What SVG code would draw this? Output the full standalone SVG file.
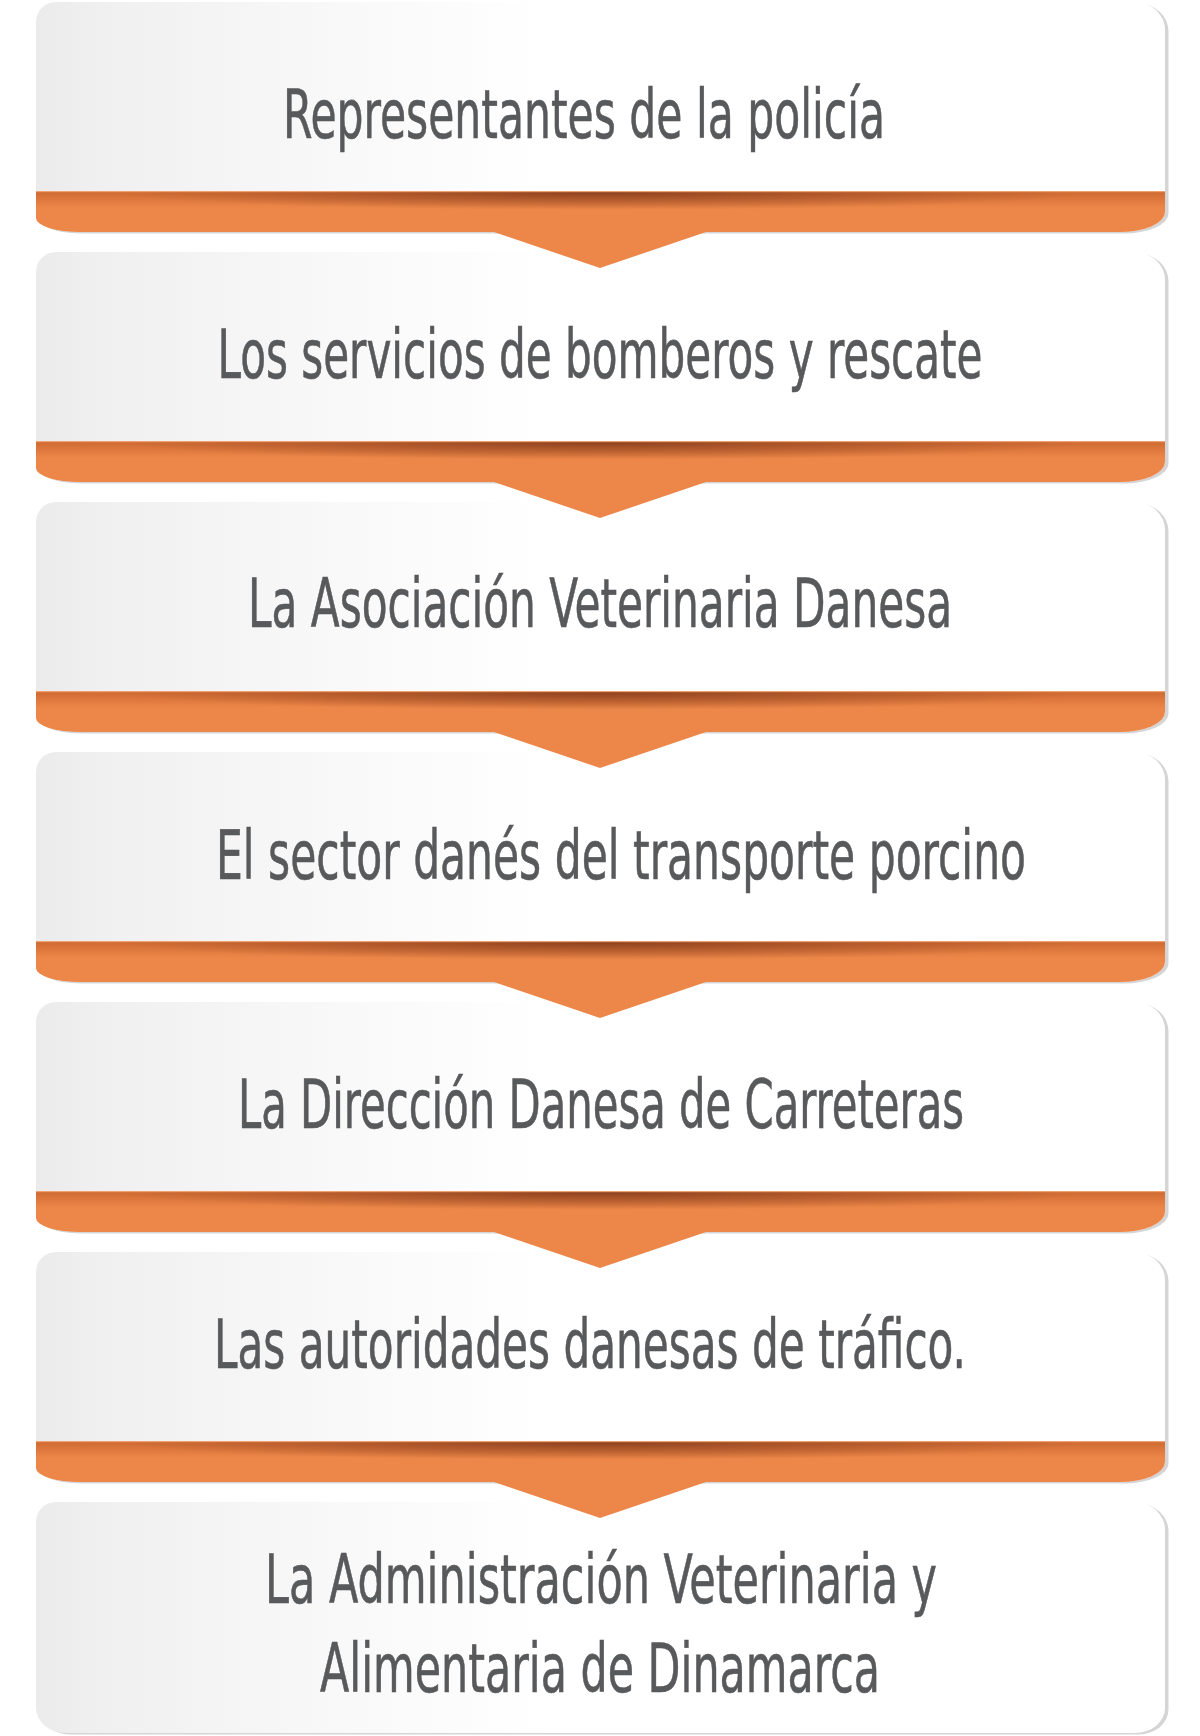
<svg xmlns="http://www.w3.org/2000/svg" width="1200" height="1736" viewBox="0 0 1200 1736">
  <style>
    .lbl { font-family: "Liberation Sans Narrow", "DejaVu Sans Condensed", "Liberation Sans", sans-serif; font-size: 68px; fill: #58595b; stroke: #58595b; stroke-width: 0.6px; text-anchor: middle; }
    .shadow { fill: #d5d5d5; }
    .arrow { fill: #ed8749; }
  </style>
  <defs>
    <path id="card" d="M 56 0 H 1135 A 30 28 0 0 1 1165 28 V 210 A 45 20 0 0 1 1120 230 H 80 A 44 14 0 0 1 36 216 V 20 A 20 20 0 0 1 56 0 Z"/>
    <path id="cardLast" d="M 56 0 H 1135 A 30 28 0 0 1 1165 28 V 206 A 30 25 0 0 1 1135 231 H 66 A 30 25 0 0 1 36 206 V 20 A 20 20 0 0 1 56 0 Z"/>
    <clipPath id="clipCard"><use href="#card"/></clipPath>
    <clipPath id="clipLast"><use href="#cardLast"/></clipPath>
    <linearGradient id="face" gradientUnits="userSpaceOnUse" x1="36" y1="0" x2="1165" y2="0">
      <stop offset="0" stop-color="#ebebeb"/>
      <stop offset="0.06" stop-color="#f0f0f0"/>
      <stop offset="0.25" stop-color="#f8f8f8"/>
      <stop offset="0.45" stop-color="#ffffff"/>
      <stop offset="1" stop-color="#ffffff"/>
    </linearGradient>
    <linearGradient id="bandTop" x1="0" y1="0" x2="0" y2="1">
      <stop offset="0" stop-color="#c4602a" stop-opacity="0.75"/>
      <stop offset="1" stop-color="#c4602a" stop-opacity="0"/>
    </linearGradient>
    <radialGradient id="bandDark" cx="0.5" cy="0" r="0.5">
      <stop offset="0" stop-color="#7a3518" stop-opacity="0.8"/>
      <stop offset="0.5" stop-color="#8a3f1e" stop-opacity="0.45"/>
      <stop offset="1" stop-color="#8a3f1e" stop-opacity="0"/>
    </radialGradient>
    <g id="face-band">
      <rect x="30" y="-5" width="1140" height="245" fill="url(#face)"/>
      <rect x="30" y="189" width="1140" height="50" fill="#ed8749"/>
      <rect x="30" y="190" width="1140" height="16" fill="url(#bandTop)"/>
      <rect x="120" y="190" width="960" height="36" fill="url(#bandDark)"/>
      <rect x="30" y="189" width="1140" height="1.2" fill="#eea070"/>
    </g>
  </defs>

  <g id="node-1" transform="translate(0,2)">
    <use href="#card" class="shadow" transform="translate(3.5,1.5)"/>
    <g clip-path="url(#clipCard)"><use href="#face-band"/></g>
    <text class="lbl" x="584" y="136" textLength="602" lengthAdjust="spacingAndGlyphs">Representantes de la policía</text>
  </g>

  <g id="node-2" transform="translate(0,252)">
    <use href="#card" class="shadow" transform="translate(3.5,1.5)"/>
    <g clip-path="url(#clipCard)"><use href="#face-band"/></g>
    <text class="lbl" x="600" y="126" textLength="765" lengthAdjust="spacingAndGlyphs">Los servicios de bomberos y rescate</text>
  </g>

  <g id="node-3" transform="translate(0,502)">
    <use href="#card" class="shadow" transform="translate(3.5,1.5)"/>
    <g clip-path="url(#clipCard)"><use href="#face-band"/></g>
    <text class="lbl" x="600" y="125" textLength="704" lengthAdjust="spacingAndGlyphs">La Asociación Veterinaria Danesa</text>
  </g>

  <g id="node-4" transform="translate(0,752)">
    <use href="#card" class="shadow" transform="translate(3.5,1.5)"/>
    <g clip-path="url(#clipCard)"><use href="#face-band"/></g>
    <text class="lbl" x="621" y="127" textLength="810" lengthAdjust="spacingAndGlyphs">El sector danés del transporte porcino</text>
  </g>

  <g id="node-5" transform="translate(0,1002)">
    <use href="#card" class="shadow" transform="translate(3.5,1.5)"/>
    <g clip-path="url(#clipCard)"><use href="#face-band"/></g>
    <text class="lbl" x="601" y="126" textLength="726" lengthAdjust="spacingAndGlyphs">La Dirección Danesa de Carreteras</text>
  </g>

  <g id="node-6" transform="translate(0,1252)">
    <use href="#card" class="shadow" transform="translate(3.5,1.5)"/>
    <g clip-path="url(#clipCard)"><use href="#face-band"/></g>
    <text class="lbl" x="590" y="116" textLength="752" lengthAdjust="spacingAndGlyphs">Las autoridades danesas de tráfico.</text>
  </g>

  <g id="node-7" transform="translate(0,1502)">
    <use href="#cardLast" class="shadow" transform="translate(3.5,1.5)"/>
    <g clip-path="url(#clipLast)"><rect x="30" y="-5" width="1140" height="245" fill="url(#face)"/></g>
    <text class="lbl" x="601" y="101" textLength="672" lengthAdjust="spacingAndGlyphs">La Administración Veterinaria y</text>
    <text class="lbl" x="600" y="190" textLength="560" lengthAdjust="spacingAndGlyphs">Alimentaria de Dinamarca</text>
  </g>

  <g id="connectors">
    <polygon class="arrow" points="488,230 600,268 712,230 712,228 488,228"/>
    <polygon class="arrow" points="488,480 600,518 712,480 712,478 488,478"/>
    <polygon class="arrow" points="488,730 600,768 712,730 712,728 488,728"/>
    <polygon class="arrow" points="488,980 600,1018 712,980 712,978 488,978"/>
    <polygon class="arrow" points="488,1230 600,1268 712,1230 712,1228 488,1228"/>
    <polygon class="arrow" points="488,1480 600,1518 712,1480 712,1478 488,1478"/>
  </g>
</svg>
